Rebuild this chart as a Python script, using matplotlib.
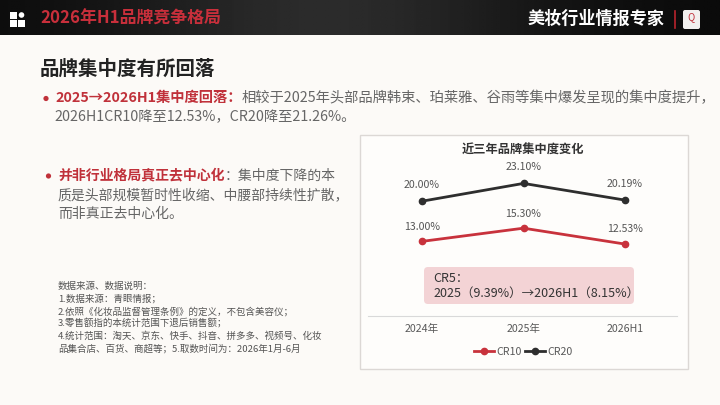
import numpy as np
import matplotlib.pyplot as plt
from matplotlib.patches import Rectangle, FancyBboxPatch, Circle

plt.rcParams['font.family'] = ['Noto Sans CJK SC', 'DejaVu Sans']

# data
periods = ['2024年', '2025年', '2026H1']
cr10 = [13.00, 15.30, 12.53]
cr20 = [20.00, 23.10, 20.19]
cr5_note = ['CR5：', '2025（9.39%）→2026H1（8.15%）']

red = '#C0313A'
line_red = '#C8323C'
dark = '#2E2E2E'
grey = '#666666'

fig = plt.figure(figsize=(7.2, 4.05), dpi=100)
fig.patch.set_facecolor('#FCFAF7')

# full-figure axes in pixel coords for the slide decoration
bg = fig.add_axes([0, 0, 1, 1], zorder=0)
bg.axis('off')

# header bar with soft gradient
gx = np.linspace(0, 1, 300)
grad = 0.04 + 0.13 * np.exp(-((gx - 0.45) / 0.3) ** 2)
grad = np.tile(grad, (20, 1))
bg.imshow(grad, extent=(0, 720, 35, 0), aspect='auto', cmap='gray', vmin=0, vmax=1)
bg.set_xlim(0, 720)
bg.set_ylim(405, 0)

# header icon
for (x0, y0) in [(10, 12), (10, 20), (18, 20)]:
    bg.add_patch(Rectangle((x0, y0), 6.5, 6.5, fc='white', ec='none'))
bg.add_patch(Circle((21.5, 15), 2.8, fc='white', ec='none'))

bg.text(40, 19, '2026年H1品牌竞争格局', fontsize=12.2, fontweight='bold',
        color='#C92F3B', va='center', ha='left')
bg.text(665, 19, '美妆行业情报专家', fontsize=12.3, fontweight='bold',
        color='white', va='center', ha='right')
bg.plot([675, 675], [11, 28], color='#B8242D', lw=1.2)
bg.add_patch(FancyBboxPatch((683, 10), 17, 19, boxstyle='round,pad=0,rounding_size=2',
                            fc='#F2F0EE', ec='none'))
bg.text(691.5, 17, 'Q', fontsize=7, color='#C0313A', ha='center', va='center')

# left text block
bg.text(40, 69, '品牌集中度有所回落', fontsize=14, fontweight='bold',
        color='#222222', va='center', ha='left')

bg.add_patch(Circle((46, 98.5), 2.6, fc=red, ec='none'))
t1 = bg.text(55, 98, '2025→2026H1集中度回落：', fontsize=10.3, fontweight='bold',
             color=red, va='center', ha='left')
bg.annotate('相较于2025年头部品牌韩束、珀莱雅、谷雨等集中爆发呈现的集中度提升，',
            xy=(1, 0.5), xycoords=t1, va='center', ha='left',
            fontsize=10.3, color=grey)
bg.text(54, 117.5, '2026H1CR10降至12.53%，CR20降至21.26%。', fontsize=10.3,
        color=grey, va='center', ha='left')

bg.add_patch(Circle((48.5, 176), 2.6, fc=red, ec='none'))
t2 = bg.text(58, 175.5, '并非行业格局真正去中心化', fontsize=10, fontweight='bold',
             color=red, va='center', ha='left')
bg.annotate('：集中度下降的本', xy=(1, 0.5), xycoords=t2, va='center', ha='left',
            fontsize=10, color=grey)
bg.text(58, 195, '质是头部规模暂时性收缩、中腰部持续性扩散，', fontsize=10,
        color=grey, va='center', ha='left')
bg.text(58, 214, '而非真正去中心化。', fontsize=10, color=grey, va='center', ha='left')

notes = ['数据来源、数据说明：',
         '1.数据来源：青眼情报；',
         '2.依照《化妆品监督管理条例》的定义，不包含美容仪；',
         '3.零售额指的本统计范围下退后销售额；',
         '4.统计范围：淘天、京东、快手、抖音、拼多多、视频号、化妆',
         '品集合店、百货、商超等；5.取数时间为：2026年1月-6月']
for i, line in enumerate(notes):
    bg.text(58, 286 + i * 12.6, line, fontsize=6.85, color='#555555',
            va='center', ha='left')

# chart panel
bg.add_patch(Rectangle((360, 135), 328, 234, fc='#FEFDFB', ec='#DCD8D5', lw=1))
bg.text(523, 150, '近三年品牌集中度变化', fontsize=8.8, fontweight='bold',
        color='#333333', ha='center', va='center')
bg.add_patch(FancyBboxPatch((424, 267), 210, 37, boxstyle='round,pad=0,rounding_size=4',
                            fc='#F3D3D5', ec='none'))
bg.text(433, 279, cr5_note[0], fontsize=9, color='#333333', va='center', ha='left')
bg.text(433, 293, cr5_note[1], fontsize=9, color='#333333', va='center', ha='left')

ax = fig.add_axes([368 / 720, 1 - 316 / 405, (677 - 368) / 720, (316 - 143.8) / 405],
                  zorder=2)
ax.patch.set_alpha(0)
x = np.arange(len(periods))
l10, = ax.plot(x, cr10, color=line_red, lw=2, marker='o', ms=4.5, label='CR10')
l20, = ax.plot(x, cr20, color=dark, lw=2, marker='o', ms=4.5, label='CR20')
for i in range(len(periods)):
    ax.annotate(f'{cr10[i]:.2f}%', (x[i], cr10[i]), xytext=(0, 10.5),
                textcoords='offset points', ha='center', va='center',
                fontsize=7.6, color='#555555')
    ax.annotate(f'{cr20[i]:.2f}%', (x[i], cr20[i]), xytext=(0, 11.5),
                textcoords='offset points', ha='center', va='center',
                fontsize=7.6, color='#555555')
ax.set_xlim(-0.532, 2.512)
ax.set_ylim(0, 30)
ax.set_yticks([])
ax.set_xticks(x)
ax.set_xticklabels(periods)
ax.tick_params(axis='x', length=0, labelsize=7.6, labelcolor='#595959', pad=6)
for s in ['top', 'right', 'left']:
    ax.spines[s].set_visible(False)
ax.spines['bottom'].set_color('#D9D9D9')
ax.spines['bottom'].set_linewidth(0.8)

ax.legend(handles=[l10, l20], loc='center', bbox_to_anchor=(523 / 720, 1 - 352 / 405),
          bbox_transform=fig.transFigure, ncol=2, frameon=False, fontsize=7.7,
          handlelength=1.9, handletextpad=0.2, columnspacing=0.3, labelcolor='#595959')

fig.savefig('out.png', dpi=100, facecolor=fig.get_facecolor())
